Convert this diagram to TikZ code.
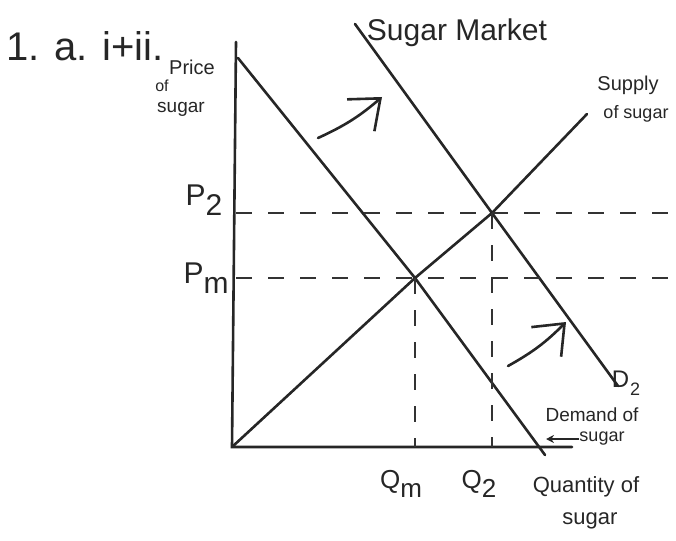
\documentclass[tikz,border=0pt]{standalone}
\usepackage{fontspec}
\setmainfont{Liberation Sans}
\usetikzlibrary{arrows.meta}
\newcommand{\lowsub}[1]{\raisebox{-0.6ex}{#1}}
\tikzset{
  curve/.style={line width=2.6pt,black!85,line cap=round},
  guide/.style={line width=2pt,black!80,dash pattern=on 16pt off 16pt},
  shiftarrow/.style={line width=2.6pt,black!85,line cap=round,-{Straight Barb[length=26pt,width=42pt,line width=2.6pt]}},
  hand/.style={inner sep=0pt,text=black!85}
}
\begin{document}
\begin{tikzpicture}[x=1pt,y=-1pt]
\useasboundingbox (0,0) rectangle (676,540);
% points
\coordinate (o) at (232,447);
\coordinate (ytop) at (236,42);
\coordinate (xend) at (572,447);
\coordinate (em) at (415,278);
\coordinate (e2) at (492,213);
\coordinate (stop) at (587,114);
\coordinate (d1top) at (238,58);
\coordinate (d1end) at (545,455);
\coordinate (d2top) at (355,24);
\coordinate (d2end) at (618,386);
% axes
\draw[curve] (ytop) -- (o) -- (xend);
% curves
\draw[curve] (o) -- (em) -- (e2) -- (stop);
\draw[curve] (d1top) -- (em) -- (d1end);
\draw[curve] (d2top) -- (e2) -- (d2end);
% price and quantity guides
\coordinate (p2r) at (676,213);
\coordinate (pmr) at (676,278);
\draw[guide] (ytop |- e2) -- (p2r);
\draw[guide] (ytop |- em) -- (pmr);
\draw[guide] (em) -- (em |- o);
\draw[guide] (e2) -- (e2 |- o);
% shift arrows
\coordinate (a1s) at (318,138);
\coordinate (a1e) at (382,97);
\coordinate (a2s) at (508,366);
\coordinate (a2e) at (566,322);
\draw[shiftarrow] (a1s) to[bend right=8] (a1e);
\draw[shiftarrow] (a2s) to[bend right=8] (a2e);
% labels
\node[hand,font=\fontsize{40}{42}\selectfont,anchor=west] (qnum) at (6,46) {1. a. i+ii.};
\node[hand,font=\fontsize{30}{32}\selectfont] (title) at (457,33) {Sugar Market};
\node[hand,font=\fontsize{20}{22}\selectfont] (plab1) at (192,67) {Price};
\node[hand,font=\fontsize{16}{18}\selectfont] (plab2) at (162,86) {of};
\node[hand,font=\fontsize{19}{21}\selectfont] (plab3) at (181,109) {sugar};
\node[hand,font=\fontsize{20}{22}\selectfont] (slab1) at (628,85) {Supply};
\node[hand,font=\fontsize{18}{20}\selectfont] (slab2) at (636,114) {of sugar};
\node[hand,font=\fontsize{30}{32}\selectfont] (p2) at (204,200) {P\lowsub{2}};
\node[hand,font=\fontsize{30}{32}\selectfont] (pm) at (206,278) {P\lowsub{m}};
\node[hand,font=\fontsize{26}{28}\selectfont] (qm) at (401,484) {Q\lowsub{m}};
\node[hand,font=\fontsize{26}{28}\selectfont] (q2) at (479,484) {Q\lowsub{2}};
\node[hand,font=\fontsize{22}{24}\selectfont] (qlab1) at (586,487) {Quantity of};
\node[hand,font=\fontsize{22}{24}\selectfont] (qlab2) at (590,521) {sugar};
\node[hand,font=\fontsize{24}{26}\selectfont] (d2) at (626,383) {D\kern1pt\lowsub{\fontsize{18}{20}\selectfont 2}};
\node[hand,font=\fontsize{19}{21}\selectfont] (dlab1) at (592,415) {Demand of};
\node[hand,font=\fontsize{18}{20}\selectfont] (dlab2) at (602,439) {sugar};
\coordinate (d1pt) at (546,439);
\draw[line width=2pt,black!85,-{Stealth[length=8pt,width=8pt]}] (dlab2.west) -- (d1pt);
\end{tikzpicture}
\end{document}
